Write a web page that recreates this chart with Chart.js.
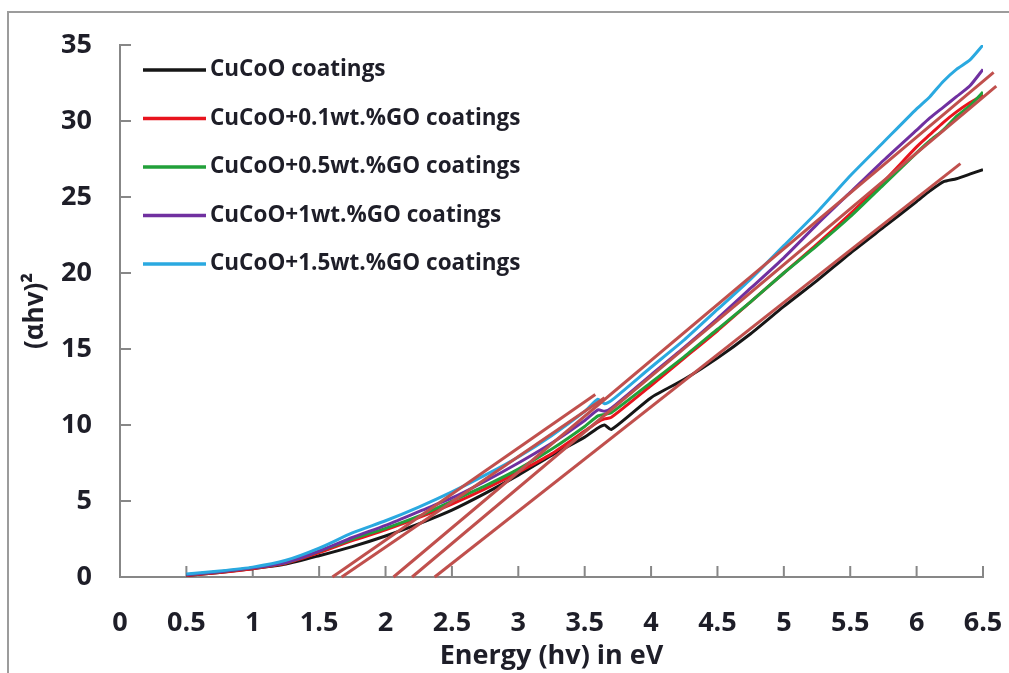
<!DOCTYPE html>
<html>
<head>
<meta charset="utf-8">
<title>Tauc plot</title>
<script src="https://cdn.jsdelivr.net/npm/chart.js"></script>
<style>
  body { margin: 0; background: #fff; }
  canvas { display: block; }
</style>
</head>
<body>
<canvas id="taucChart" width="1009" height="673"></canvas>
<script>
// photon energy grid (eV) shared by all measured curves
const energy = [0.5, 0.75, 1.0, 1.25, 1.5, 1.75, 2.0, 2.25, 2.5, 2.75, 3.0, 3.25, 3.5, 3.6, 3.65, 3.7,
                4.0, 4.25, 4.5, 4.75, 5.0, 5.25, 5.5, 5.75, 6.0, 6.1, 6.2, 6.3, 6.4, 6.5];

// (alpha h v)^2
const cucoo  = [0.1, 0.3, 0.55, 0.85, 1.4, 2.0, 2.7, 3.5, 4.4, 5.5, 6.7, 8.0, 9.2, 9.8, 10.0, 9.7,
                11.8, 13.0, 14.4, 16.0, 17.8, 19.5, 21.3, 23.0, 24.7, 25.4, 26.0, 26.2, 26.5, 26.8];
const go01   = [0.1, 0.3, 0.55, 0.9, 1.6, 2.4, 3.1, 3.9, 4.8, 5.8, 6.9, 8.1, 9.6, 10.2, 10.4, 10.5,
                12.6, 14.4, 16.2, 18.1, 20.0, 21.9, 23.9, 26.0, 28.3, 29.1, 29.9, 30.6, 31.2, 31.7];
const go05   = [0.15, 0.35, 0.6, 0.95, 1.7, 2.5, 3.2, 4.0, 5.0, 6.0, 7.1, 8.4, 9.9, 10.6, 10.7, 10.8,
                12.8, 14.5, 16.3, 18.1, 20.0, 21.8, 23.7, 25.8, 27.9, 28.7, 29.4, 30.3, 31.0, 31.9];
const go1    = [0.15, 0.35, 0.6, 0.95, 1.7, 2.6, 3.4, 4.3, 5.2, 6.3, 7.5, 8.8, 10.3, 11.0, 10.9, 11.1,
                13.3, 15.1, 17.0, 19.0, 21.0, 23.2, 25.3, 27.4, 29.4, 30.2, 30.9, 31.6, 32.3, 33.4];
const go15   = [0.2, 0.4, 0.65, 1.1, 1.9, 2.9, 3.7, 4.6, 5.6, 6.7, 7.9, 9.3, 10.9, 11.7, 11.4, 11.6,
                13.8, 15.6, 17.6, 19.6, 21.8, 24.0, 26.4, 28.6, 30.8, 31.6, 32.6, 33.4, 34.0, 35.0];

const seriesLabels = ['CuCoO coatings', 'CuCoO+0.1wt.%GO coatings', 'CuCoO+0.5wt.%GO coatings',
                      'CuCoO+1wt.%GO coatings', 'CuCoO+1.5wt.%GO coatings'];
const seriesColors = ['#161616', '#e8141e', '#22a03a', '#7030a0', '#2aa9e0'];

// linear extrapolation lines: [start, end] as [energy, value]
const fitA = [[1.60, 0], [3.58, 12.0]];
const fitB = [[1.67, 0], [3.65, 11.8]];
const fitC = [[2.06, 0], [6.58, 33.2]];
const fitD = [[2.20, 0], [6.60, 32.3]];
const fitE = [[2.37, 0], [6.33, 27.2]];
const fitColor = '#c0504d';

const xTicksMax = 6.5;
const yTicksMax = 35;

const toPoints = ys => energy.map((x, i) => ({ x: x, y: ys[i] }));
const toLine = pts => pts.map(p => ({ x: p[0], y: p[1] }));

const measured = [cucoo, go01, go05, go1, go15];
const drawOrder = [5, 4, 3, 2, 1];

const datasets = measured.map((ys, i) => ({
    label: seriesLabels[i],
    data: toPoints(ys),
    borderColor: seriesColors[i],
    borderWidth: 3,
    pointRadius: 0,
    showLine: true,
    tension: 0.2,
    order: drawOrder[i]
}));

[fitA, fitB, fitC, fitD, fitE].forEach(f => {
    datasets.push({
        label: 'fit',
        data: toLine(f),
        borderColor: fitColor,
        borderWidth: 3,
        pointRadius: 0,
        showLine: true,
        clip: false,
        order: 0
    });
});

const textColor = '#1e1e28';
const axisGray = '#878787';

// outer frame of the figure
const frame = {
    id: 'frame',
    beforeDraw(chart) {
        const ctx = chart.ctx;
        ctx.save();
        ctx.strokeStyle = '#9c9c9c';
        ctx.lineWidth = 2;
        ctx.beginPath();
        ctx.moveTo(8, chart.height + 5);
        ctx.lineTo(8, 12);
        ctx.lineTo(chart.width + 5, 12);
        ctx.stroke();
        ctx.restore();
    }
};

// tick marks pointing into the plot
const inwardTicks = {
    id: 'inwardTicks',
    beforeDatasetsDraw(chart) {
        const { ctx, chartArea, scales } = chart;
        ctx.save();
        ctx.strokeStyle = axisGray;
        ctx.lineWidth = 2;
        ctx.beginPath();
        scales.x.ticks.forEach(t => {
            const px = scales.x.getPixelForValue(t.value);
            ctx.moveTo(px, chartArea.bottom);
            ctx.lineTo(px, chartArea.bottom - 11);
        });
        scales.y.ticks.forEach(t => {
            const py = scales.y.getPixelForValue(t.value);
            ctx.moveTo(chartArea.left, py);
            ctx.lineTo(chartArea.left + 11, py);
        });
        ctx.stroke();
        ctx.restore();
    }
};

// legend sitting inside the plot area, upper left
const insideLegend = {
    id: 'insideLegend',
    afterDatasetsDraw(chart) {
        const { ctx, chartArea } = chart;
        ctx.save();
        ctx.font = 'bold 22.5px "Open Sans"';
        ctx.textBaseline = 'middle';
        ctx.fillStyle = textColor;
        seriesLabels.forEach((lab, i) => {
            const y = chartArea.top + 25 + i * 48.5;
            ctx.strokeStyle = seriesColors[i];
            ctx.lineWidth = 3.5;
            ctx.beginPath();
            ctx.moveTo(chartArea.left + 23, y);
            ctx.lineTo(chartArea.left + 86, y);
            ctx.stroke();
            ctx.fillText(lab, chartArea.left + 90, y);
        });
        ctx.restore();
    }
};

new Chart(document.getElementById('taucChart').getContext('2d'), {
    type: 'scatter',
    data: { datasets: datasets },
    options: {
        responsive: false,
        animation: false,
        layout: { padding: { left: 0, top: 45, right: 26, bottom: 0 } },
        plugins: {
            legend: { display: false },
            tooltip: { enabled: false }
        },
        scales: {
            x: {
                type: 'linear',
                min: 0,
                max: xTicksMax,
                grid: { display: false, drawTicks: false },
                border: { display: true, color: axisGray, width: 2 },
                ticks: {
                    stepSize: 0.5,
                    autoSkip: false,
                    maxRotation: 0,
                    padding: 30,
                    color: textColor,
                    font: { family: 'Open Sans', size: 27, weight: 'bold' },
                    callback: v => String(v)
                },
                title: {
                    display: true,
                    text: 'Energy (hv) in eV',
                    color: textColor,
                    padding: 0,
                    font: { family: 'Open Sans', size: 27, weight: 'bold' }
                },
                afterFit(scale) {
                    scale.height = 96;
                    scale.paddingLeft = 0;
                    scale.paddingRight = 0;
                }
            },
            y: {
                min: 0,
                max: yTicksMax,
                grid: { display: false, drawTicks: false },
                border: { display: true, color: axisGray, width: 2 },
                ticks: {
                    stepSize: 5,
                    padding: 28,
                    color: textColor,
                    font: { family: 'Open Sans', size: 27, weight: 'bold' }
                },
                title: {
                    display: true,
                    text: '(αhv)²',
                    color: textColor,
                    padding: { top: 20, bottom: 0 },
                    font: { family: 'Open Sans', size: 26, weight: 'bold' }
                },
                afterFit(scale) {
                    scale.width = 120;
                    scale.paddingTop = 0;
                    scale.paddingBottom = 0;
                }
            }
        }
    },
    plugins: [frame, inwardTicks, insideLegend]
});
</script>
</body>
</html>
